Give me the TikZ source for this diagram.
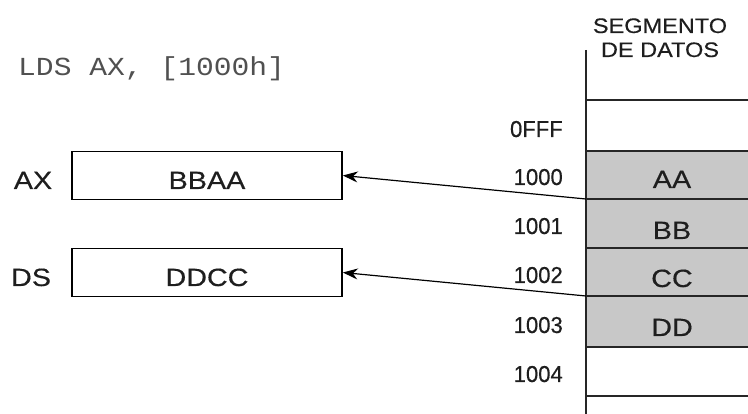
\documentclass[tikz,border=0pt]{standalone}
\usepackage{fontspec}
\setmainfont{Liberation Sans}
\newfontfamily\widesans[FakeStretch=1.15,FakeBold=0.4]{Liberation Sans}
\newfontfamily\headsans[FakeStretch=1.12,FakeBold=0.3]{Liberation Sans}
\newfontfamily\addrsans[FakeStretch=0.96,FakeBold=0.5]{Liberation Sans}
\newfontfamily\codemono[FakeStretch=1.14]{Liberation Mono}
\usetikzlibrary{arrows.meta}
\definecolor{cellgray}{RGB}{200,200,200}
\definecolor{inkgray}{RGB}{30,30,30}
\definecolor{codegray}{RGB}{80,80,80}
\tikzset{
  regbox/.style={draw=black, line width=1.6pt, minimum width=270pt, minimum height=48pt, inner sep=0pt},
  regtext/.style={anchor=base, inner sep=0pt, text=inkgray, font=\widesans\fontsize{25}{25}\selectfont},
  celltext/.style={anchor=base, inner sep=0pt, text=inkgray, font=\widesans\fontsize{25}{25}\selectfont},
  addrtext/.style={anchor=base east, inner sep=0pt, text=inkgray, font=\addrsans\fontsize{23}{23}\selectfont},
  headtext/.style={anchor=base, inner sep=0pt, text=inkgray, font=\headsans\fontsize{21}{21}\selectfont},
  memline/.style={line width=1.5pt, draw=black!85},
  loadarrow/.style={line width=1.2pt, -{Stealth[length=15pt, width=11pt]}}
}
\begin{document}
\begin{tikzpicture}[x=1pt, y=-1pt]
\useasboundingbox (0,0) rectangle (748,414);

% instruction
\node[anchor=base west, inner sep=0pt, text=codegray, font=\codemono\fontsize{26}{26}\selectfont] (instr) at (18,76) {LDS AX, [1000h]};

% registers
\node[regbox] (axbox) at (207,175.5) {};
\node[regbox] (dsbox) at (207,272.5) {};
\node[regtext] (axval) at (207,189) {BBAA};
\node[regtext] (dsval) at (207,286) {DDCC};
\node[regtext] (axname) at (33,189) {AX};
\node[regtext] (dsname) at (31,286) {DS};

% data segment: shaded cells
\fill[cellgray] (586,151) rectangle (748,347);
\foreach \yy in {100,151,199,248,296,347,396}
  \draw[memline] (586,\yy) -- (748,\yy);
\draw[memline] (586,50) -- (586,414);

% header
\node[headtext] (head1) at (660,33) {SEGMENTO};
\node[headtext] (head2) at (660,57) {DE DATOS};

% cell contents
\node[celltext] (c0) at (672,188) {AA};
\node[celltext] (c1) at (672,239) {BB};
\node[celltext] (c2) at (672,287) {CC};
\node[celltext] (c3) at (672,336) {DD};

% addresses
\node[addrtext] (a0) at (563,137) {0FFF};
\node[addrtext] (a1) at (563,185) {1000};
\node[addrtext] (a2) at (563,234) {1001};
\node[addrtext] (a3) at (563,283) {1002};
\node[addrtext] (a4) at (563,333) {1003};
\node[addrtext] (a5) at (563,382) {1004};

% load connectors
\coordinate (lowword) at (586,199);
\coordinate (highword) at (586,296);
\draw[loadarrow] (lowword) -- (axbox.east);
\draw[loadarrow] (highword) -- (dsbox.east);
\end{tikzpicture}
\end{document}
